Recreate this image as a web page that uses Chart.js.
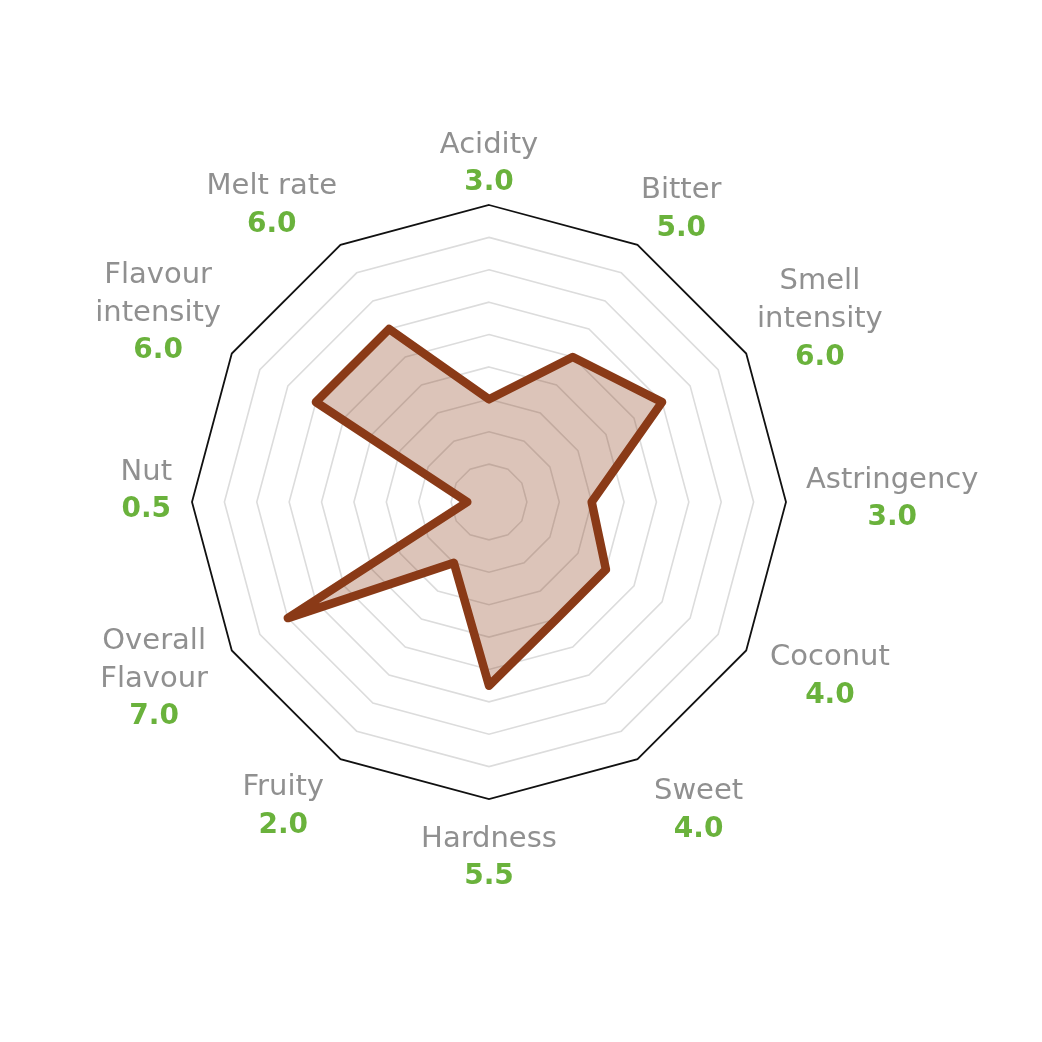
<!DOCTYPE html>
<html>
<head>
<meta charset="utf-8">
<script src="https://cdn.jsdelivr.net/npm/chart.js@4.4.0/dist/chart.umd.min.js"></script>
<style>
    html, body { margin: 0; padding: 0; background: #fff; }
    #wrap { width: 1042px; height: 1042px; }
</style>
</head>
<body>
<div id="wrap"><canvas id="radarChart" width="1042" height="1042"></canvas></div>
<script>
// Tasting profile data
const attributes = [
    ['Acidity'], ['Bitter'], ['Smell', 'intensity'], ['Astringency'],
    ['Coconut'], ['Sweet'], ['Hardness'], ['Fruity'],
    ['Overall', 'Flavour'], ['Nut'], ['Flavour', 'intensity'], ['Melt rate']
];
const scores = [3.0, 5.0, 6.0, 3.0, 4.0, 4.0, 5.5, 2.0, 7.0, 0.5, 6.0, 6.0];
const scaleMin = -0.17;
const scaleMax = 9;
const ringStep = 1;

const nameFont = '29px "DejaVu Sans"';
const valueFont = 'bold 28px "DejaVu Sans"';
const nameColor = '#909090';
const valueColor = '#6ab23c';

// Draws "name / value" blocks around the outer ring
const scoreLabels = {
    id: 'scoreLabels',
    afterDraw(chart) {
        const scale = chart.scales.r;
        const ctx = chart.ctx;
        const lineH = 38;
        ctx.save();
        ctx.textAlign = 'center';
        ctx.textBaseline = 'middle';
        attributes.forEach((lines, i) => {
            const rows = lines.map(t => ({ text: t, font: nameFont, color: nameColor }));
            rows.push({ text: scores[i].toFixed(1), font: valueFont, color: valueColor });
            let w = 0;
            rows.forEach(r => {
                ctx.font = r.font;
                w = Math.max(w, ctx.measureText(r.text).width);
            });
            const h = rows.length * lineH;
            const angle = scale.getIndexAngle(i);
            const sin = Math.sin(angle);
            const cos = Math.cos(angle);
            const R = scale.drawingArea;
            let x = scale.xCenter + sin * (R + 20 - 15 * cos);
            if (Math.abs(sin) > 0.01) x += Math.sign(sin) * w / 2;
            let y = scale.yCenter - cos * (R + 12) - cos * h / 2;
            y += 9 - 20 * sin * sin + 8 * Math.max(0, sin);
            rows.forEach((r, k) => {
                ctx.font = r.font;
                ctx.fillStyle = r.color;
                ctx.fillText(r.text, x, y - h / 2 + lineH * (k + 0.5));
            });
        });
        ctx.restore();
    }
};

const radarCanvas = document.getElementById('radarChart');
if (radarCanvas) {
    new Chart(radarCanvas.getContext('2d'), {
        type: 'radar',
        data: {
            labels: attributes,
            datasets: [{
                data: scores,
                borderColor: '#8a3a17',
                backgroundColor: 'rgba(139, 58, 23, 0.3)',
                borderWidth: 8.5,
                borderJoinStyle: 'round',
                pointRadius: 0,
                pointHoverRadius: 0,
                fill: 'start'
            }]
        },
        options: {
            responsive: false,
            animation: false,
            layout: {
                padding: { left: 192, right: 256, top: 205, bottom: 243 }
            },
            scales: {
                r: {
                    min: scaleMin,
                    max: scaleMax,
                    ticks: { display: false, stepSize: ringStep },
                    angleLines: { display: false },
                    pointLabels: { display: false },
                    grid: {
                        color: function(context) {
                            const v = context.tick.value;
                            if (v >= scaleMax) return '#111111';
                            if (v >= 1) return '#dcdcdc';
                            return 'rgba(0, 0, 0, 0)';
                        },
                        lineWidth: function(context) {
                            return context.tick.value >= scaleMax ? 1.8 : 1.6;
                        }
                    }
                }
            },
            plugins: {
                legend: { display: false },
                tooltip: { enabled: false }
            }
        },
        plugins: [scoreLabels]
    });
}
</script>
</body>
</html>
